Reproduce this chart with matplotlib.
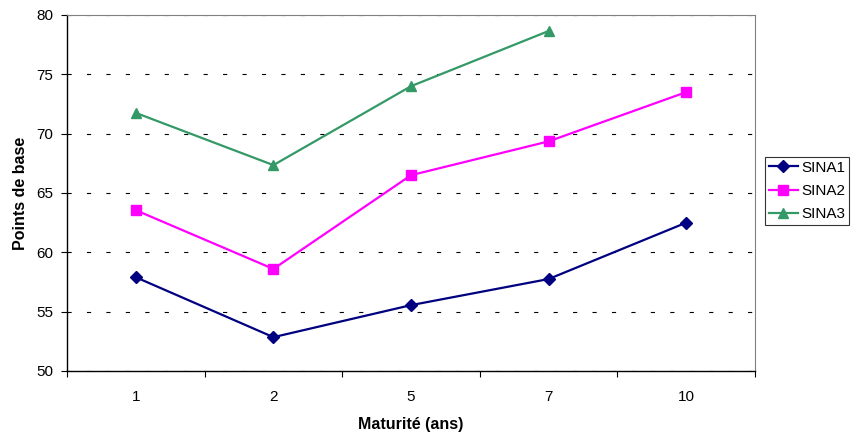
import numpy as np
import matplotlib
matplotlib.use('Agg')
import matplotlib.pyplot as plt
from matplotlib.ticker import FixedLocator, NullFormatter, FixedFormatter

plt.rcParams['font.family'] = ['Liberation Sans', 'DejaVu Sans']
plt.rcParams['lines.scale_dashes'] = False

# data
maturites = ['1', '2', '5', '7', '10']
sina1 = [57.9, 52.85, 55.55, 57.75, 62.5]
sina2 = [63.55, 58.6, 66.5, 69.35, 73.5]
sina3 = [71.75, 67.35, 74.0, 78.65, np.nan]

x = np.arange(len(maturites))

fig = plt.figure(figsize=(8.51, 4.38), dpi=100)
ax = fig.add_axes([67/851, (438-371)/438, 688/851, 356/438])

ax.plot(x, sina1, color='#000080', lw=1.6, marker='D', ms=6, label='SINA1')
ax.plot(x, sina2, color='#FF00FF', lw=1.6, marker='s', ms=6.5, label='SINA2')
ax.plot(x, sina3, color='#339966', lw=1.6, marker='^', ms=7, label='SINA3')

ax.set_xlim(-0.5, len(maturites) - 0.5)
ax.set_ylim(50, 80)

# ticks on category boundaries, labels in the middle
ax.xaxis.set_major_locator(FixedLocator(np.arange(-0.5, len(maturites), 1.0)))
ax.xaxis.set_major_formatter(NullFormatter())
ax.xaxis.set_minor_locator(FixedLocator(x))
ax.xaxis.set_minor_formatter(FixedFormatter(maturites))
ax.tick_params(axis='x', which='major', direction='out', length=4, width=0.8)
ax.tick_params(axis='x', which='minor', length=0, pad=14, labelsize=11)
ax.set_yticks(np.arange(50, 81, 5))
ax.tick_params(axis='y', direction='out', length=4, width=0.8, pad=6, labelsize=11)

ax.yaxis.grid(True, color='black', lw=0.8, linestyle=(0, (3, 11)))
ax.set_axisbelow(True)

for side in ['top', 'right']:
    ax.spines[side].set_color('#808080')
    ax.spines[side].set_linewidth(0.8)
for side in ['left', 'bottom']:
    ax.spines[side].set_linewidth(1.0)

ax.set_xlabel('Maturité (ans)', fontweight='bold', fontsize=11.5, labelpad=9)
ax.set_ylabel('Points de base', fontweight='bold', fontsize=11.5, labelpad=6)

leg = fig.legend(loc='upper left', bbox_to_anchor=(765/851, (438-157)/438),
                 frameon=True, fancybox=False, edgecolor='black', fontsize=11,
                 handlelength=1.9, handletextpad=0.2, borderpad=0.25,
                 labelspacing=0.6, borderaxespad=0)
leg.get_frame().set_linewidth(0.8)

fig.savefig('out.png', dpi=100)
